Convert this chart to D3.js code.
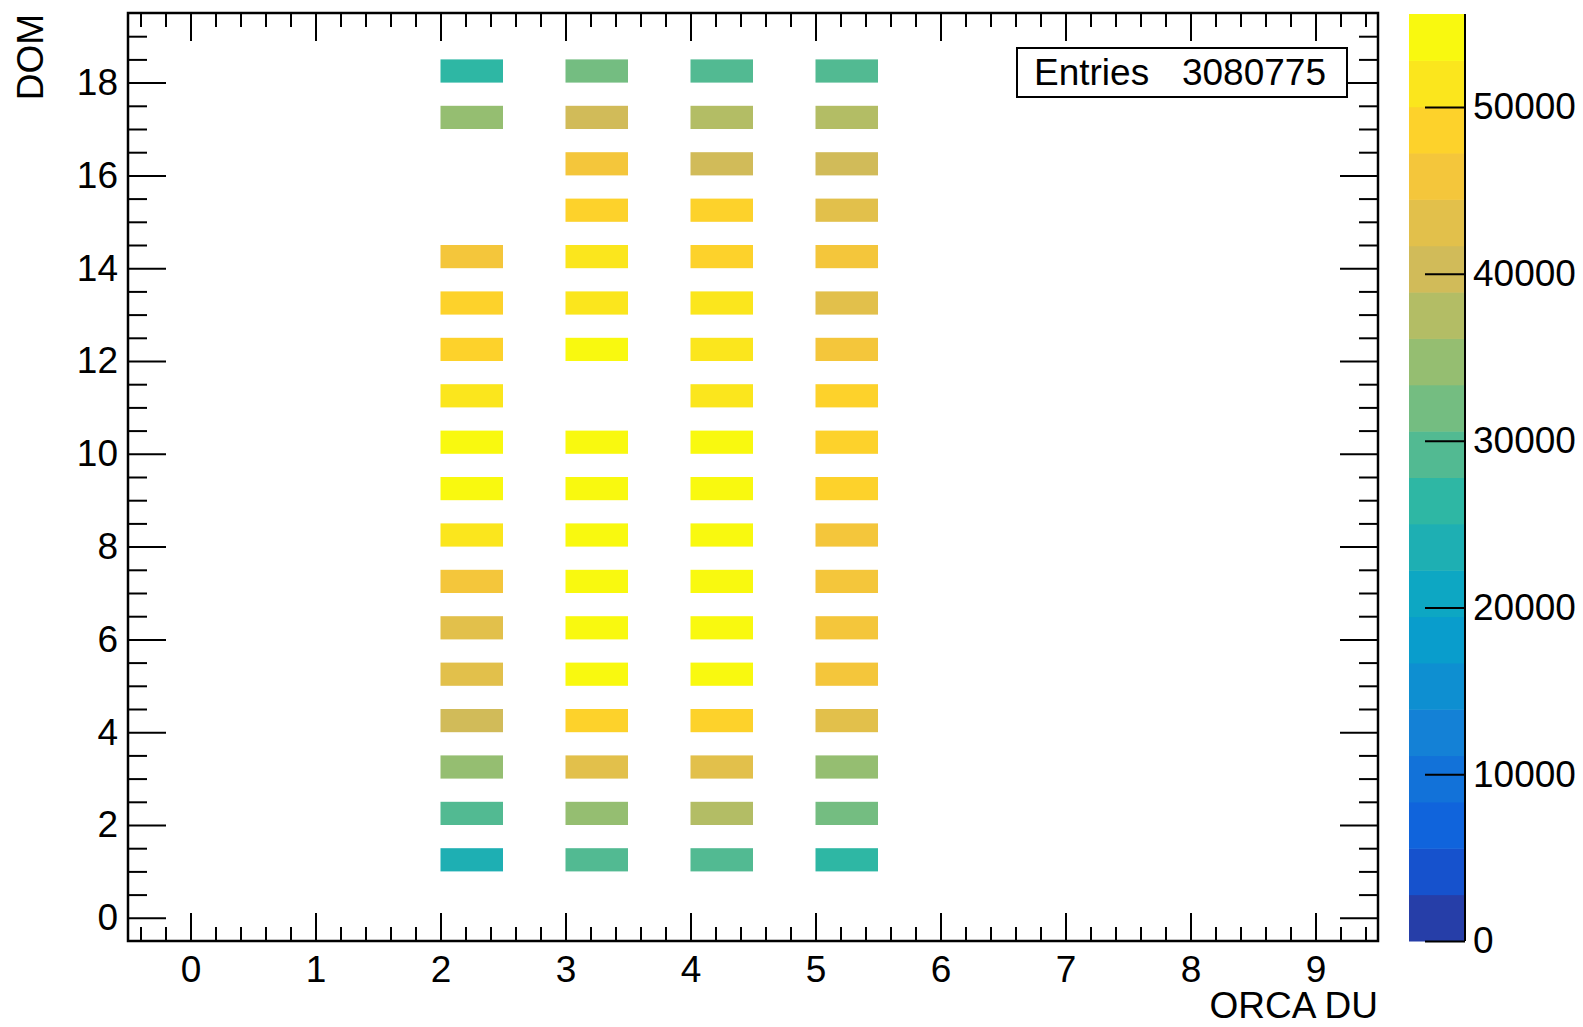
<!DOCTYPE html>
<html>
<head>
<meta charset="utf-8">
<script src="https://cdn.jsdelivr.net/npm/d3@7/dist/d3.min.js"></script>
<style>
  html, body { margin: 0; padding: 0; background: #ffffff; }
  svg { display: block; }
  text { font-family: "Liberation Sans", Arial, Helvetica, sans-serif; fill: #000; }
</style>
</head>
<body>
<svg id="chart" width="1583" height="1027"></svg>
<script>
// ---------------- DATA ----------------
const duCategories = [2, 3, 4, 5];            // ORCA DU (x bins, lower edge)
const domCategories = [1, 2, 3, 4, 5, 6, 7, 8, 9, 10, 11, 12, 13, 14, 15, 16, 17, 18]; // DOM (y bins, lower edge)
// counts per DOM (1..18) for each DU; null = empty bin
const countsDU2 = [23750, 29340, 34880, 40120, 43050, 43610, 46020, 51730, 54310, 53960, 51980, 49120, 48870, 46380, null, null, 35010, 26480];
const countsDU3 = [29620, 35140, 43520, 48730, 54820, 55130, 55580, 54960, 54470, 53890, null, 53420, 51960, 51240, 48950, 46210, 40560, 31980];
const countsDU4 = [29410, 37780, 43290, 48460, 54650, 55040, 54880, 54210, 54020, 53640, 51690, 51870, 51320, 49360, 49010, 40790, 37640, 29050];
const countsDU5 = [26710, 32280, 35260, 43380, 46590, 46870, 46450, 46730, 48380, 48190, 48520, 46040, 43770, 45810, 43460, 40930, 37260, 28930];
const seriesCounts = [countsDU2, countsDU3, countsDU4, countsDU5];
const binWidthX = 0.5, binWidthY = 0.5;
const xTickLabels = ["0", "1", "2", "3", "4", "5", "6", "7", "8", "9"];
const yTickLabels = ["0", "2", "4", "6", "8", "10", "12", "14", "16", "18"];
const zTickLabels = ["0", "10000", "20000", "30000", "40000", "50000"];
const entriesLabel = "Entries";
const entriesValue = "3080775";
const xTitle = "ORCA DU";
const yTitle = "DOM";
const nContours = 20;

// ROOT kBird palette definition
const birdStops = [0.0000, 0.1250, 0.2500, 0.3750, 0.5000, 0.6250, 0.7500, 0.8750, 1.0000];
const birdRed   = [0.2082, 0.0592, 0.0780, 0.0232, 0.1802, 0.5301, 0.8186, 0.9956, 0.9764];
const birdGreen = [0.1664, 0.3599, 0.5041, 0.6419, 0.7178, 0.7492, 0.7328, 0.7862, 0.9832];
const birdBlue  = [0.5293, 0.8684, 0.8385, 0.7914, 0.6425, 0.4662, 0.3499, 0.1968, 0.0539];

// ---------------- PALETTE ----------------
const nPal = 255;
const palette = [];
for (let g = 1; g < birdStops.length; g++) {
  const n = Math.floor(nPal * birdStops[g]) - Math.floor(nPal * birdStops[g - 1]);
  for (let c = 0; c < n; c++) {
    const r = birdRed[g - 1] + c * (birdRed[g] - birdRed[g - 1]) / n;
    const gg = birdGreen[g - 1] + c * (birdGreen[g] - birdGreen[g - 1]) / n;
    const b = birdBlue[g - 1] + c * (birdBlue[g] - birdBlue[g - 1]) / n;
    palette.push(d3.rgb(Math.round(r * 255), Math.round(gg * 255), Math.round(b * 255)).formatHex());
  }
}
const levelColors = d3.range(nContours).map(k =>
  palette[Math.min(nPal - 1, Math.floor((k + 0.99) * nPal / nContours))]);

// ---------------- CELLS ----------------
const cells = [];
duCategories.forEach((du, i) => {
  seriesCounts[i].forEach((v, j) => {
    if (v !== null) cells.push({ du: du, dom: domCategories[j], v: v });
  });
});
const zMax = d3.max(cells, d => d.v);

// ---------------- LAYOUT ----------------
const svg = d3.select("#chart");
const frame = { left: 128, right: 1378, top: 13, bottom: 941 };
const x = d3.scaleLinear().domain([-0.5, 9.5]).range([frame.left, frame.right]);
const y = d3.scaleLinear().domain([-0.5, 19.5]).range([frame.bottom, frame.top]);
const zColor = d3.scaleQuantize().domain([0, zMax]).range(levelColors);
const fs = 37;

svg.append("rect").attr("width", 1583).attr("height", 1027).attr("fill", "#fff");

// bins
svg.append("g").selectAll("rect").data(cells).join("rect")
  .attr("x", d => x(d.du))
  .attr("y", d => y(d.dom + binWidthY))
  .attr("width", d => x(d.du + binWidthX) - x(d.du))
  .attr("height", d => y(d.dom) - y(d.dom + binWidthY))
  .attr("fill", d => zColor(d.v));

// axes ticks
const xMajor = xTickLabels.map(Number);
const xMinor = d3.range(-0.4, 9.5, 0.2).map(v => +v.toFixed(1)).filter(v => Math.abs(v - Math.round(v)) > 1e-6);
const yMajor = yTickLabels.map(Number);
const yMinor = d3.range(-0.5, 19.6, 0.5).filter(v => Math.abs(v / 2 - Math.round(v / 2)) > 1e-6 && v > -0.5 && v < 19.5);

const xMajLen = 28, xMinLen = 14, yMajLen = 38, yMinLen = 19;

function styleAxis(g) {
  g.select(".domain").remove();
  g.selectAll("line").attr("stroke", "#000").attr("stroke-width", 2);
  g.selectAll("text").attr("font-size", fs).attr("fill", "#000")
    .style("font-family", '"Liberation Sans", Arial, Helvetica, sans-serif');
}

// bottom
svg.append("g").attr("transform", `translate(0,${frame.bottom})`)
  .call(d3.axisBottom(x).tickValues(xMajor).tickFormat((d, i) => xTickLabels[i]).tickSize(-xMajLen).tickPadding(15))
  .call(styleAxis);
svg.append("g").attr("transform", `translate(0,${frame.bottom})`)
  .call(d3.axisBottom(x).tickValues(xMinor).tickFormat("").tickSize(-xMinLen))
  .call(styleAxis);
// top
svg.append("g").attr("transform", `translate(0,${frame.top})`)
  .call(d3.axisTop(x).tickValues(xMajor).tickFormat("").tickSize(-xMajLen))
  .call(styleAxis);
svg.append("g").attr("transform", `translate(0,${frame.top})`)
  .call(d3.axisTop(x).tickValues(xMinor).tickFormat("").tickSize(-xMinLen))
  .call(styleAxis);
// left
svg.append("g").attr("transform", `translate(${frame.left},0)`)
  .call(d3.axisLeft(y).tickValues(yMajor).tickFormat((d, i) => yTickLabels[i]).tickSize(-yMajLen).tickPadding(10))
  .call(styleAxis);
svg.append("g").attr("transform", `translate(${frame.left},0)`)
  .call(d3.axisLeft(y).tickValues(yMinor).tickFormat("").tickSize(-yMinLen))
  .call(styleAxis);
// right
svg.append("g").attr("transform", `translate(${frame.right},0)`)
  .call(d3.axisRight(y).tickValues(yMajor).tickFormat("").tickSize(-yMajLen))
  .call(styleAxis);
svg.append("g").attr("transform", `translate(${frame.right},0)`)
  .call(d3.axisRight(y).tickValues(yMinor).tickFormat("").tickSize(-yMinLen))
  .call(styleAxis);

// frame
svg.append("rect")
  .attr("x", frame.left).attr("y", frame.top)
  .attr("width", frame.right - frame.left).attr("height", frame.bottom - frame.top)
  .attr("fill", "none").attr("stroke", "#000").attr("stroke-width", 2.5);

// axis titles
svg.append("text").attr("x", frame.right).attr("y", 1018)
  .attr("text-anchor", "end").attr("font-size", fs).text(xTitle);
svg.append("text").attr("transform", `translate(43,${frame.top + 1}) rotate(-90)`)
  .attr("text-anchor", "end").attr("font-size", fs).text(yTitle);

// stats box
const box = { x: 1017, y: 48, w: 330, h: 49 };
svg.append("rect").attr("x", box.x).attr("y", box.y).attr("width", box.w).attr("height", box.h)
  .attr("fill", "#fff").attr("stroke", "#000").attr("stroke-width", 2);
svg.append("text").attr("x", 1034).attr("y", 85).attr("font-size", fs).text(entriesLabel);
svg.append("text").attr("x", 1326).attr("y", 85).attr("text-anchor", "end").attr("font-size", fs).text(entriesValue);

// color bar
const bar = { x0: 1409, x1: 1465 };
const yz = d3.scaleLinear().domain([0, zMax]).range([frame.bottom, frame.top + 1]);
const dz = zMax / nContours;
svg.append("g").selectAll("rect").data(levelColors).join("rect")
  .attr("x", bar.x0)
  .attr("y", (c, k) => yz((k + 1) * dz))
  .attr("width", bar.x1 - bar.x0)
  .attr("height", (c, k) => yz(k * dz) - yz((k + 1) * dz) + 0.5)
  .attr("fill", c => c);
svg.append("line").attr("x1", bar.x1).attr("x2", bar.x1)
  .attr("y1", yz(zMax)).attr("y2", yz(0))
  .attr("stroke", "#000").attr("stroke-width", 2);
const zTicks = zTickLabels.map(Number);
const zg = svg.append("g").attr("transform", `translate(${bar.x1},0)`)
  .call(d3.axisRight(yz).tickValues(zTicks).tickFormat((d, i) => zTickLabels[i]).tickSize(-40).tickPadding(8))
  .call(styleAxis);
</script>
</body>
</html>
